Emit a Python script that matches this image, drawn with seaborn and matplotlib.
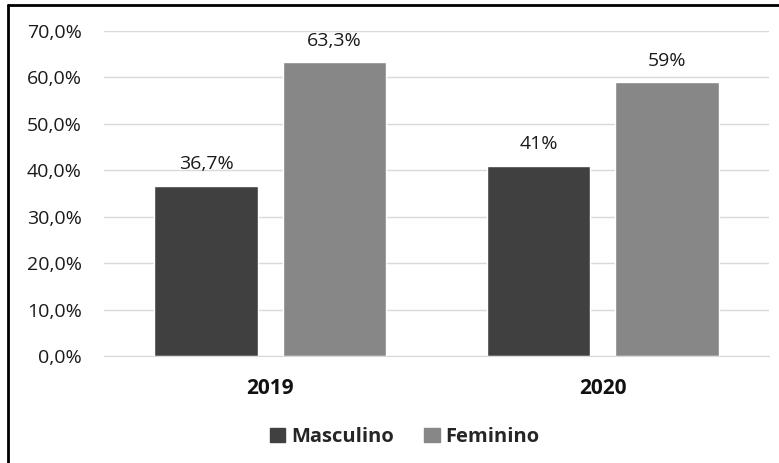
import pandas as pd
import seaborn as sns
import matplotlib.pyplot as plt
from matplotlib.patches import Patch

anos = ['2019', '2020']
generos = ['Masculino', 'Feminino']
masculino = [36.7, 41.0]
feminino = [63.3, 59.0]
rotulos = [['36,7%', '41%'], ['63,3%', '59%']]
ticks_y = [0, 10, 20, 30, 40, 50, 60, 70]
cores = ['#404040', '#878787']

df = pd.DataFrame({
    'ano': anos * 2,
    'genero': [generos[0]] * 2 + [generos[1]] * 2,
    'valor': masculino + feminino,
})

sns.set_style('white')
plt.rcParams['font.family'] = ['Open Sans', 'DejaVu Sans']

fig = plt.figure(figsize=(7.79, 4.63), dpi=100)
ax = fig.add_axes([104 / 779, 1 - 356 / 463, 665 / 779, 325 / 463])

sns.barplot(data=df, x='ano', y='valor', hue='genero', palette=cores,
            width=0.773, gap=0.197, ax=ax, legend=False, saturation=1)

for cont, labs in zip(ax.containers, rotulos):
    ax.bar_label(cont, labels=labs, padding=9, fontsize=14, color='#1a1a1a')

ax.set_xlim(-0.5, 1.5)
ax.set_ylim(0, 70)
ax.set_yticks(ticks_y)
ax.set_yticklabels([f'{t},0%' for t in ticks_y], fontsize=14, color='#1a1a1a')
ax.yaxis.grid(True, color='#d9d9d9', linewidth=1)
ax.set_axisbelow(True)
for s in ['top', 'right', 'left']:
    ax.spines[s].set_visible(False)
ax.spines['bottom'].set_color('#d9d9d9')
ax.tick_params(axis='y', length=0, pad=16)
ax.tick_params(axis='x', length=0, pad=16)
for t in ax.get_xticklabels():
    t.set_fontweight('bold')
    t.set_fontsize(15)
    t.set_color('#111111')
ax.set_xlabel('')
ax.set_ylabel('')

handles = [Patch(color=c, label=g) for c, g in zip(cores, generos)]
fig.legend(handles=handles, loc='center', bbox_to_anchor=(405 / 779, 1 - 437 / 463),
           ncol=2, frameon=False, handlelength=0.75, handleheight=0.75,
           handletextpad=0.3, columnspacing=1.5,
           prop={'weight': 'bold', 'size': 14.5})

# moldura da figura (esquerda e topo)
fig.add_artist(plt.Line2D([8 / 779, 8 / 779], [0, 1 - 5 / 463], color='black', lw=2))
fig.add_artist(plt.Line2D([8 / 779, 1], [1 - 5 / 463, 1 - 5 / 463], color='black', lw=2))

fig.savefig('out.png', dpi=100)
